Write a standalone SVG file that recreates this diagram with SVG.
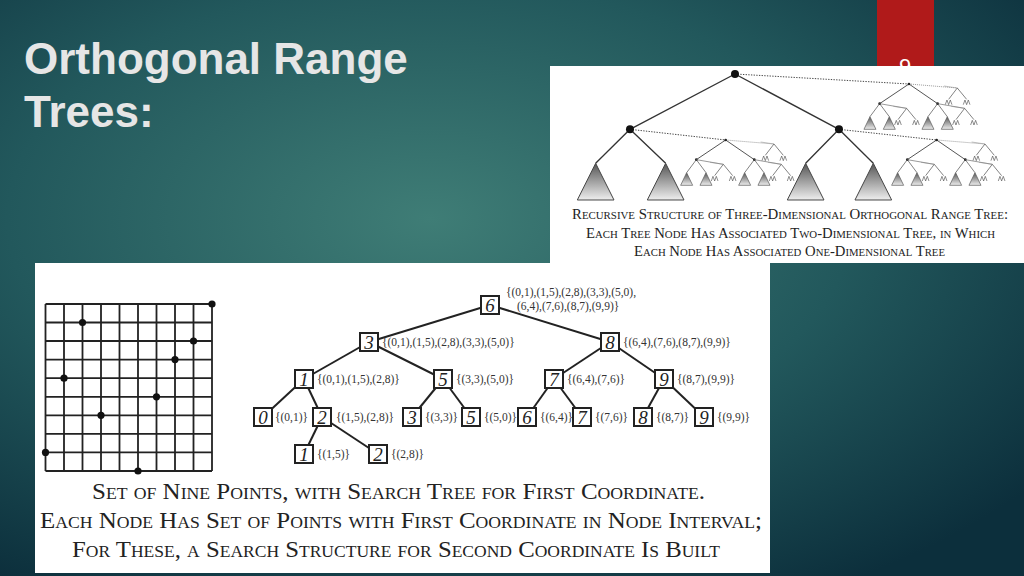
<svg xmlns="http://www.w3.org/2000/svg" xmlns:xlink="http://www.w3.org/1999/xlink" width="1024" height="576" viewBox="0 0 1024 576">
<defs>
<radialGradient id="bg" cx="0.42" cy="0.38" r="0.75">
<stop offset="0" stop-color="#3f7d76"/><stop offset="0.55" stop-color="#22585c"/><stop offset="1" stop-color="#0c2f3c"/>
</radialGradient>
<linearGradient id="tri" x1="0" y1="0" x2="0" y2="1"><stop offset="0" stop-color="#555"/><stop offset="1" stop-color="#eee"/></linearGradient>
<g id="aa"><path d="M-5,0 L-10,14 M-5,0 L0,14 M5,0 L0,14 M5,0 L10,14" fill="none" stroke="#555" stroke-width="2"/></g>
<g id="t1"><path d="M0,0 L-26,34 M0,0 L28,34" stroke="#444" stroke-width="2" fill="none"/><line x1="0" y1="0" x2="-40" y2="-6" stroke="#888" stroke-width="1.5"/><use href="#aa" x="-26" y="36"/><use href="#aa" x="28" y="36"/></g>
<g id="bigt"><path d="M0,0 L-18,38 L18,38 Z" fill="url(#tri)" stroke="#555" stroke-width="2"/></g>
<g id="sub"><path d="M0,0 L-29,39 M0,0 L29,39" stroke="#444" stroke-width="2" fill="none"/><use href="#bigt" x="-29" y="39"/><use href="#bigt" x="29" y="39"/></g>
<g id="t2">
<path d="M0,0 L-88,59 M0,0 L86,59" stroke="#333" stroke-width="2.5" fill="none"/>
<line x1="0" y1="0" x2="145" y2="12" stroke="#666" stroke-width="2" stroke-dasharray="3,3"/>
<circle r="4" fill="#222"/>
<use href="#t1" x="145" y="12"/>
<g transform="translate(-88,59)"><circle r="4" fill="#222"/><use href="#sub"/><line x1="0" y1="0" x2="81" y2="14" stroke="#666" stroke-width="2"/><use href="#t1" x="81" y="14"/></g>
<g transform="translate(86,59)"><circle r="4" fill="#222"/><use href="#sub"/><line x1="0" y1="0" x2="81" y2="14" stroke="#666" stroke-width="2"/><use href="#t1" x="81" y="14"/></g>
</g>
<style>
.sc{font-family:"Liberation Serif",serif;font-variant:small-caps;fill:#222}
.lb{font-family:"Liberation Serif",serif;font-size:11.5px;fill:#333}
.nd rect{fill:#fff;stroke:#222;stroke-width:2}
.nd text{font-family:"Liberation Serif",serif;font-style:italic;font-size:19px;text-anchor:middle;fill:#222}
.ed line{stroke:#222;stroke-width:2}
</style>
</defs>
<rect width="1024" height="576" fill="url(#bg)"/>
<rect x="877" y="0" width="57" height="66" fill="#b01a1a"/>
<text x="905" y="74" font-family="Liberation Sans,sans-serif" font-size="22" fill="#fff" text-anchor="middle">9</text>
<g font-family="Liberation Sans,sans-serif" font-size="44" font-weight="bold" fill="#e6e6e6">
<text x="24" y="74">Orthogonal Range</text><text x="24" y="127">Trees:</text></g>

<g id="fig3d">
<rect x="550" y="66" width="474" height="197" fill="#fff"/>
<g transform="translate(550,60) scale(0.3333)">
<line x1="555" y1="42" x2="1077" y2="72" stroke="#444" stroke-width="3" stroke-dasharray="4,4"/>
<line x1="240" y1="208" x2="527" y2="240" stroke="#444" stroke-width="3" stroke-dasharray="4,4"/>
<line x1="867" y1="208" x2="1160" y2="240" stroke="#444" stroke-width="3" stroke-dasharray="4,4"/>
<path d="M555,42 L240,208 M555,42 L867,208 M240,208 L137,310 M240,208 L347,310 M867,208 L767,310 M867,208 L970,310" stroke="#333" stroke-width="4" fill="none"/>
<path d="M137,310 L82,420 L192,420 Z M347,310 L292,420 L402,420 Z M767,310 L712,420 L822,420 Z M970,310 L915,420 L1025,420 Z" fill="url(#tri)" stroke="#444" stroke-width="3"/>
<circle cx="555" cy="42" r="12" fill="#111"/><circle cx="240" cy="208" r="12" fill="#111"/><circle cx="867" cy="208" r="12" fill="#111"/>
<use href="#t2" x="1077" y="72"/><use href="#t2" x="527" y="240"/><use href="#t2" x="1160" y="240"/>
</g>
<text class="sc" font-size="15"><tspan x="572" y="219" textLength="436" lengthAdjust="spacingAndGlyphs">Recursive Structure of Three-Dimensional Orthogonal Range Tree:</tspan><tspan x="586" y="238" textLength="409" lengthAdjust="spacingAndGlyphs">Each Tree Node Has Associated Two-Dimensional Tree, in Which</tspan><tspan x="634" y="256" textLength="311" lengthAdjust="spacingAndGlyphs">Each Node Has Associated One-Dimensional Tree</tspan></text>
</g>

<g id="fig2d">
<rect x="35" y="263" width="735" height="310" fill="#fff"/>
<g id="grid" stroke="#222" stroke-width="1.8">
<path d="M45.5,304V471M64,304V471M82.5,304V471M101,304V471M119.5,304V471M138,304V471M156.5,304V471M175,304V471M193.5,304V471M212,304V471"/>
<path d="M45.5,304H212M45.5,322.5H212M45.5,341H212M45.5,359.6H212M45.5,378.2H212M45.5,396.8H212M45.5,415.3H212M45.5,433.9H212M45.5,452.4H212M45.5,471H212"/>
</g>
<g fill="#111">
<circle cx="45.5" cy="452.4" r="3.6"/><circle cx="64" cy="378.2" r="3.6"/><circle cx="82.5" cy="322.5" r="3.6"/><circle cx="101" cy="415.3" r="3.6"/><circle cx="138" cy="471" r="3.6"/><circle cx="156.5" cy="396.8" r="3.6"/><circle cx="175" cy="359.6" r="3.6"/><circle cx="193.5" cy="341" r="3.6"/><circle cx="212" cy="304" r="3.6"/>
</g>
<g id="edges" class="ed">
<line x1="490" y1="305" x2="369" y2="342"/><line x1="490" y1="305" x2="610" y2="342"/>
<line x1="369" y1="342" x2="304" y2="379"/><line x1="369" y1="342" x2="443" y2="379"/>
<line x1="610" y1="342" x2="554" y2="379"/><line x1="610" y1="342" x2="664" y2="379"/>
<line x1="304" y1="379" x2="263" y2="417"/><line x1="304" y1="379" x2="322" y2="417"/>
<line x1="443" y1="379" x2="412" y2="417"/><line x1="443" y1="379" x2="471" y2="417"/>
<line x1="554" y1="379" x2="527" y2="417"/><line x1="554" y1="379" x2="582" y2="417"/>
<line x1="664" y1="379" x2="643" y2="417"/><line x1="664" y1="379" x2="704" y2="417"/>
<line x1="322" y1="417" x2="304" y2="454"/><line x1="322" y1="417" x2="378" y2="454"/>
</g>
<g id="n6" class="nd"><rect x="481" y="296" width="18" height="18"/><text x="490" y="312">6</text></g>
<g id="n3" class="nd"><rect x="360" y="333" width="18" height="18"/><text x="369" y="349">3</text></g>
<g id="n8" class="nd"><rect x="601" y="333" width="18" height="18"/><text x="610" y="349">8</text></g>
<g id="n1" class="nd"><rect x="295" y="370" width="18" height="18"/><text x="304" y="386">1</text></g>
<g id="n5" class="nd"><rect x="434" y="370" width="18" height="18"/><text x="443" y="386">5</text></g>
<g id="n7" class="nd"><rect x="545" y="370" width="18" height="18"/><text x="554" y="386">7</text></g>
<g id="n9" class="nd"><rect x="655" y="370" width="18" height="18"/><text x="664" y="386">9</text></g>
<g id="l0" class="nd"><rect x="254" y="408" width="18" height="18"/><text x="263" y="424">0</text></g>
<g id="l2" class="nd"><rect x="313" y="408" width="18" height="18"/><text x="322" y="424">2</text></g>
<g id="l3" class="nd"><rect x="403" y="408" width="18" height="18"/><text x="412" y="424">3</text></g>
<g id="l5" class="nd"><rect x="462" y="408" width="18" height="18"/><text x="471" y="424">5</text></g>
<g id="l6" class="nd"><rect x="518" y="408" width="18" height="18"/><text x="527" y="424">6</text></g>
<g id="l7" class="nd"><rect x="573" y="408" width="18" height="18"/><text x="582" y="424">7</text></g>
<g id="l8" class="nd"><rect x="634" y="408" width="18" height="18"/><text x="643" y="424">8</text></g>
<g id="l9" class="nd"><rect x="695" y="408" width="18" height="18"/><text x="704" y="424">9</text></g>
<g id="b1" class="nd"><rect x="295" y="445" width="18" height="18"/><text x="304" y="461">1</text></g>
<g id="b2" class="nd"><rect x="369" y="445" width="18" height="18"/><text x="378" y="461">2</text></g>
<g class="lb">
<text x="506" y="296">{(0,1),(1,5),(2,8),(3,3),(5,0),</text><text x="517" y="310">(6,4),(7,6),(8,7),(9,9)}</text>
<text x="382" y="346">{(0,1),(1,5),(2,8),(3,3),(5,0)}</text>
<text x="623" y="346">{(6,4),(7,6),(8,7),(9,9)}</text>
<text x="317" y="383">{(0,1),(1,5),(2,8)}</text>
<text x="456" y="383">{(3,3),(5,0)}</text>
<text x="567" y="383">{(6,4),(7,6)}</text>
<text x="677" y="383">{(8,7),(9,9)}</text>
<text x="275" y="421">{(0,1)}</text>
<text x="336" y="421">{(1,5),(2,8)}</text>
<text x="425" y="421">{(3,3)}</text>
<text x="484" y="421">{(5,0)}</text>
<text x="540" y="421">{(6,4)}</text>
<text x="595" y="421">{(7,6)}</text>
<text x="656" y="421">{(8,7)}</text>
<text x="717" y="421">{(9,9)}</text>
<text x="317" y="458">{(1,5)}</text>
<text x="391" y="458">{(2,8)}</text>
</g>
<text class="sc" font-size="24"><tspan x="92" y="499" textLength="613" lengthAdjust="spacingAndGlyphs">Set of Nine Points, with Search Tree for First Coordinate.</tspan><tspan x="40" y="528" textLength="722" lengthAdjust="spacingAndGlyphs">Each Node Has Set of Points with First Coordinate in Node Interval;</tspan><tspan x="72" y="557" textLength="648" lengthAdjust="spacingAndGlyphs">For These, a Search Structure for Second Coordinate Is Built</tspan></text>
</g>
</svg>
